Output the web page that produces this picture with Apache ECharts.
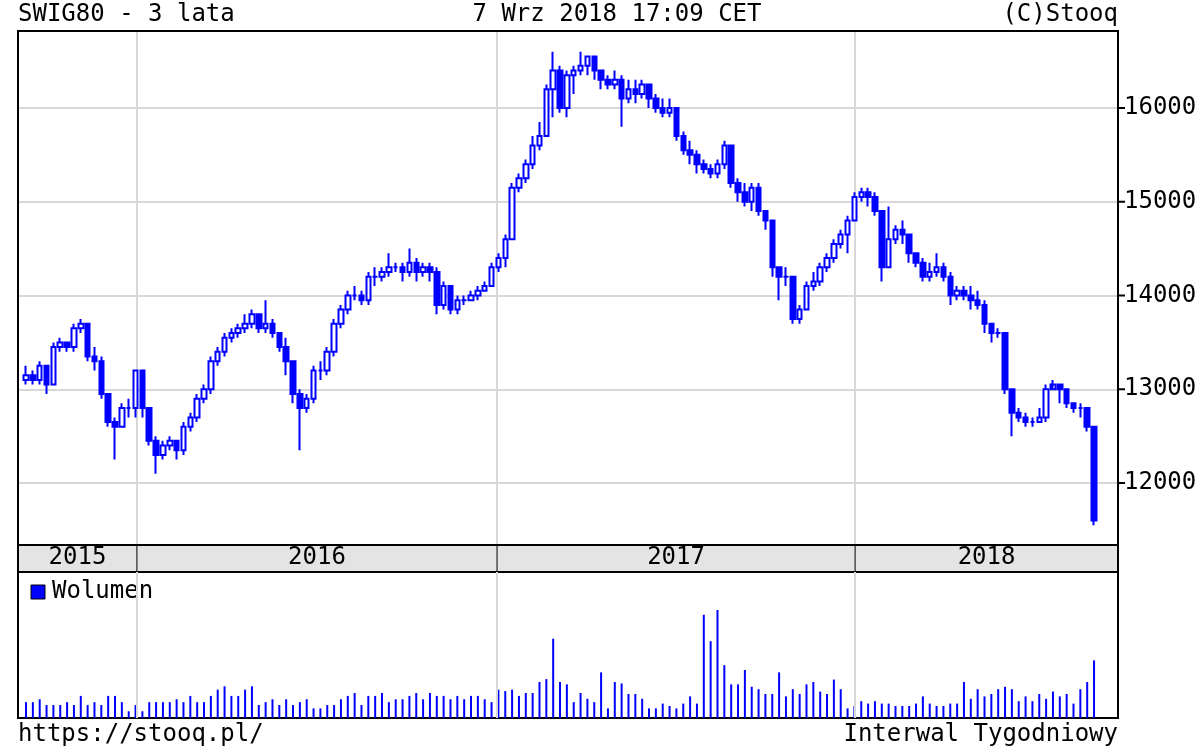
<!DOCTYPE html>
<html><head><meta charset="utf-8">
<script src="https://cdn.jsdelivr.net/npm/echarts@6/dist/echarts.min.js"></script>
<style>html,body{margin:0;padding:0;background:#fff}#c{width:1200px;height:750px}</style>
</head><body><div id="c"></div>
<script>
const opens = [13100,13150,13100,13250,13050,13450,13500,13450,13650,13700,13350,13300,12950,12650,12600,12800,12800,
13200,12800,12450,12300,12400,12450,12350,12600,12700,12900,13000,13300,13400,13550,13600,13650,13700,13800,13650,13700,13600,13450,13300,12950,12800,12900,13200,13200,13400,13700,13850,14000,14000,13950,14200,14200,14250,14300,14300,14250,14350,14250,14300,14250,13900,14100,13850,13950,13950,14000,14050,14100,
14300,14400,14600,15150,15250,15400,15600,15700,16200,16400,16000,16350,16400,16450,16550,16400,16300,16250,16300,16100,16200,16150,16250,16100,16000,15950,16000,15700,15550,15500,15400,15350,15300,15400,15600,15200,15100,15000,15150,14900,14800,14300,14200,14200,13750,13850,14100,14150,14300,14400,14550,14650,
14800,15050,15100,15050,14900,14300,14600,14700,14650,14450,14350,14200,14250,14300,14200,14000,14050,14000,13950,13900,13700,13600,13600,13000,12750,12700,12650,12650,12700,13000,13050,13000,12850,12800,12800,12600];
const closes = [13150,13100,13250,13050,13450,13500,13450,13650,13700,13350,13300,12950,12650,12600,12800,12800,13200,
12800,12450,12300,12400,12450,12350,12600,12700,12900,13000,13300,13400,13550,13600,13650,13700,13800,13650,13700,13600,13450,13300,12950,12800,12900,13200,13200,13400,13700,13850,14000,14000,13950,14200,14200,14250,14300,14300,14250,14350,14250,14300,14250,13900,14100,13850,13950,13950,14000,14050,14100,14300,
14400,14600,15150,15250,15400,15600,15700,16200,16400,16000,16350,16400,16450,16550,16400,16300,16250,16300,16100,16200,16150,16250,16100,16000,15950,16000,15700,15550,15500,15400,15350,15300,15400,15600,15200,15100,15000,15150,14900,14800,14300,14200,14200,13750,13850,14100,14150,14300,14400,14550,14650,14800,
15050,15100,15050,14900,14300,14600,14700,14650,14450,14350,14200,14250,14300,14200,14000,14050,14000,13950,13900,13700,13600,13600,13000,12750,12700,12650,12650,12700,13000,13050,13000,12850,12800,12800,12600,11600];
const highs = [13250,13200,13300,13250,13500,13550,13500,13700,13750,13700,13450,13350,12950,12700,12850,12900,13200,
13150,12800,12500,12450,12500,12450,12650,12750,12950,13050,13350,13450,13600,13650,13700,13800,13850,13800,13950,13750,13600,13550,13300,13000,12950,13250,13300,13450,13750,13900,14050,14100,14050,14250,14300,14300,14450,14350,14350,14500,14400,14350,14350,14300,14150,14100,14000,14000,14050,14100,14150,14350,
14450,14650,15200,15300,15450,15700,15850,16250,16600,16450,16400,16450,16600,16550,16550,16350,16350,16400,16350,16300,16300,16300,16250,16150,16100,16100,16000,15750,15650,15550,15450,15400,15450,15650,15600,15250,15200,15200,15200,14900,14800,14300,14300,14200,13900,14150,14250,14350,14450,14600,14700,14850,
15100,15150,15150,15100,14900,14950,14750,14800,14650,14450,14400,14350,14450,14350,14250,14100,14100,14100,14050,13950,13700,13650,13600,13000,12800,12750,12700,12800,13050,13100,13050,13000,12850,12850,12800,12600];
const lows = [13050,13050,13050,12950,13050,13400,13400,13400,13600,13300,13200,12900,12600,12250,12600,12700,12700,
12700,12400,12100,12250,12350,12250,12300,12550,12650,12850,12950,13250,13350,13500,13550,13600,13650,13600,13600,13550,13400,13150,12850,12350,12750,12850,13100,13150,13350,13650,13800,13950,13900,13900,14100,14150,14200,14250,14150,14200,14150,14200,14150,13800,13850,13800,13800,13900,13950,13950,14050,14100,
14250,14300,14600,15100,15200,15350,15550,15700,15900,15950,15900,16150,16350,16350,16300,16200,16200,16200,15800,16050,16050,16100,16000,15950,15900,15900,15650,15500,15400,15300,15300,15250,15250,15350,15150,15000,14950,14900,14850,14700,14200,13950,14100,13700,13700,13850,14050,14100,14250,14350,14500,14450,
14800,15000,14950,14850,14150,14300,14550,14550,14350,14300,14150,14150,14200,14150,13900,13950,13950,13850,13850,13600,13500,13550,12950,12500,12650,12600,12600,12650,12650,13100,12850,12800,12750,12700,12550,11550];
const volumes = [33,33,39,27,27,27,33,27,46,27,33,27,46,46,33,14,27,
14,33,33,33,33,39,33,46,33,33,46,59,66,46,46,59,66,27,33,39,27,39,27,33,39,20,20,27,27,39,46,52,27,46,46,52,33,39,39,46,52,39,52,46,46,39,46,39,46,46,39,33,
59,56,59,46,52,52,75,81,165,75,70,33,52,40,33,95,20,75,72,50,50,40,20,20,30,25,20,30,45,30,215,160,225,110,70,70,100,65,60,50,50,95,45,60,50,70,75,55,50,80,60,20,
25,35,30,35,30,30,25,25,25,30,45,30,25,25,30,30,75,40,60,45,50,60,65,60,35,45,35,50,40,55,45,50,30,60,75,120];
const years = ['2015','2016','2017','2018'];
const yearLinePos = [16.2,68.8,121.1];
const priceTicks = [12000,13000,14000,15000,16000];

const FONT = 'DejaVu Sans Mono';
const F = '24px "'+FONT+'"';
const BLUE = '#0000ff';
const candles = closes.map((c,i)=>[i, opens[i], c, lows[i], highs[i]]);
const vols = volumes.map((v,i)=>[i, v]);
const yearLines = yearLinePos.map(p=>({xAxis:p}));
const xMin = -1.17, xMax = 159.5;
const TOP = 31;
const chart = echarts.init(document.getElementById('c'));
const gridLine = {color:'#d8d8d8', width:2, type:'solid'};
chart.setOption({
  animation:false,
  grid:[{left:18,right:82,top:TOP,bottom:205},{left:18,right:82,top:572,bottom:32}],
  xAxis:[
    {type:'value',gridIndex:0,min:xMin,max:xMax,show:false},
    {type:'value',gridIndex:1,min:xMin,max:xMax,show:false}],
  yAxis:[
    {type:'value',gridIndex:0,min:11339,max:16821,show:false},
    {type:'value',gridIndex:1,min:0,max:304,show:false}],
  series:[
    {type:'candlestick',xAxisIndex:0,yAxisIndex:0,data:candles,barWidth:5,
     encode:{x:0,y:[1,2,3,4]},
     itemStyle:{color:'#ffffff',color0:BLUE,borderColor:BLUE,borderColor0:BLUE,borderWidth:2},
     markLine:{silent:true,symbol:'none',animation:false,z:0,
       data:[...priceTicks.map(v=>({yAxis:v,label:{show:true,position:'end',formatter:String(v)}})),
             ...yearLines.map(d=>({...d,label:{show:false}}))],
       lineStyle:gridLine,
       label:{color:'#000',fontFamily:FONT,fontSize:24,distance:6}}},
    {type:'bar',xAxisIndex:1,yAxisIndex:1,data:vols,barWidth:2,itemStyle:{color:BLUE},
     markLine:{silent:true,symbol:'none',animation:false,data:yearLines,lineStyle:gridLine,label:{show:false}}}
  ]
});
const px = v => chart.convertToPixel({xAxisIndex:0}, v);
const bounds = [18, ...yearLinePos.map(px), 1118];
const yearEls = years.map((y,k)=>({type:'text',x:(bounds[k]+bounds[k+1])/2,y:558,
  style:{text:y,font:F,fill:'#000',align:'center',verticalAlign:'middle'}}));
chart.setOption({graphic:[
  {type:'rect',shape:{x:18,y:545,width:1100,height:27},style:{fill:'#e4e4e4'},z:-1},
  ...yearLinePos.map(p=>({type:'line',shape:{x1:px(p),y1:545,x2:px(p),y2:572},style:{stroke:'#000',lineWidth:1}})),
  {type:'rect',shape:{x:18,y:TOP,width:1100,height:718-TOP},style:{fill:null,stroke:'#000',lineWidth:2}},
  {type:'line',shape:{x1:18,y1:545,x2:1118,y2:545},style:{stroke:'#000',lineWidth:2}},
  {type:'line',shape:{x1:18,y1:572,x2:1118,y2:572},style:{stroke:'#000',lineWidth:2}},
  ...priceTicks.map(v=>{const y=chart.convertToPixel({yAxisIndex:0},v);return {type:'line',shape:{x1:1118,y1:y,x2:1125,y2:y},style:{stroke:'#000',lineWidth:2}};}),
  ...yearEls,
  {type:'text',x:18,y:15,style:{text:'SWIG80 - 3 lata',font:F,fill:'#000',verticalAlign:'middle'}},
  {type:'text',x:617,y:15,style:{text:'7 Wrz 2018 17:09 CET',font:F,fill:'#000',align:'center',verticalAlign:'middle'}},
  {type:'text',x:1118,y:15,style:{text:'(C)Stooq',font:F,fill:'#000',align:'right',verticalAlign:'middle'}},
  {type:'rect',shape:{x:31,y:585,width:14,height:14},style:{fill:BLUE,stroke:'#000',lineWidth:1}},
  {type:'text',x:52,y:592,style:{text:'Wolumen',font:F,fill:'#000',verticalAlign:'middle'}},
  {type:'text',x:18,y:735,style:{text:'https://stooq.pl/',font:F,fill:'#000',verticalAlign:'middle'}},
  {type:'text',x:1118,y:735,style:{text:'Interwal Tygodniowy',font:F,fill:'#000',align:'right',verticalAlign:'middle'}}
]});
</script></body></html>
